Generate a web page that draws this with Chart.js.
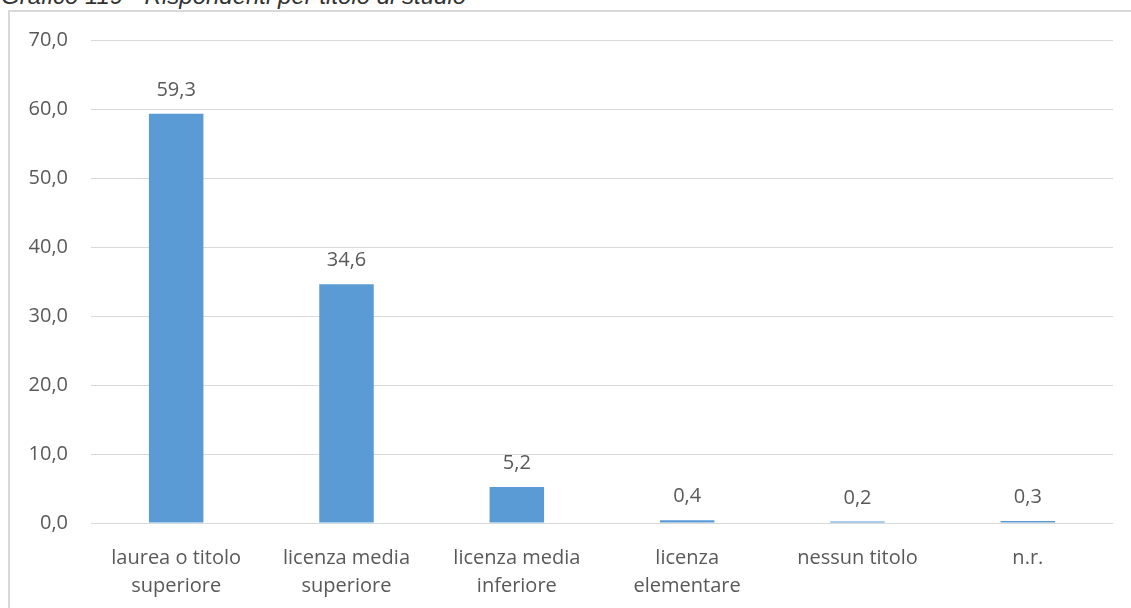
<!DOCTYPE html>
<html lang="it">
<head>
<meta charset="utf-8">
<script src="https://cdn.jsdelivr.net/npm/chart.js@4/dist/chart.umd.min.js"></script>
<style>
  html, body { margin: 0; padding: 0; background: #fff; overflow: hidden; }
  #wrap { position: relative; width: 1131px; height: 608px; overflow: hidden; }
  #titolo {
    position: absolute; left: 1px; top: -17px;
    font: italic 24px "Liberation Sans", Arial, sans-serif;
    line-height: 26px;
    color: #333; white-space: nowrap;
  }
  #cornice {
    position: absolute; left: 8px; top: 10px; width: 1200px; height: 700px;
    border: 2px solid #d9d9d9; box-sizing: border-box;
  }
  #grafico { position: absolute; left: 0; top: 0; }
</style>
</head>
<body>
<div id="wrap">
  <div id="titolo">Grafico 119 - Rispondenti per titolo di studio</div>
  <div id="cornice"></div>
  <canvas id="grafico" width="1131" height="608"></canvas>
</div>
<script>
// Dati del grafico
const categorie = [
  ["laurea o titolo", "superiore"],
  ["licenza media", "superiore"],
  ["licenza media", "inferiore"],
  ["licenza", "elementare"],
  "nessun titolo",
  "n.r.",
];
const valori = [59.3, 34.6, 5.2, 0.4, 0.2, 0.3];
const tickY = [0, 10, 20, 30, 40, 50, 60, 70];

const formatta = (v) => Number(v).toFixed(1).replace(".", ",");
const grigioTesto = "#595959";
const fontBase = { family: "'Open Sans', sans-serif", size: 20 };

// Plugin per le etichette sopra le barre
const etichetteValori = {
  id: "etichetteValori",
  afterDatasetsDraw(chart) {
    const ctx = chart.ctx;
    const meta = chart.getDatasetMeta(0);
    ctx.save();
    ctx.fillStyle = grigioTesto;
    ctx.font = `${fontBase.size}px ${fontBase.family}`;
    ctx.textAlign = "center";
    ctx.textBaseline = "alphabetic";
    meta.data.forEach((bar, i) => {
      ctx.fillText(formatta(valori[i]), bar.x, bar.y - 18);
    });
    ctx.restore();
  },
};

new Chart(document.querySelector("#grafico"), {
  type: "bar",
  data: {
    labels: categorie,
    datasets: [
      {
        data: valori,
        backgroundColor: "#5b9bd5",
        borderWidth: 0,
        categoryPercentage: 1,
        barPercentage: 0.32,
      },
    ],
  },
  options: {
    responsive: false,
    animation: false,
    layout: { padding: { left: 8, top: 40, right: 18, bottom: 0 } },
    plugins: {
      legend: { display: false },
      tooltip: { enabled: false },
    },
    scales: {
      y: {
        min: tickY[0],
        max: tickY[tickY.length - 1],
        afterFit: (scale) => { scale.width = 83; },
        afterBuildTicks: (scale) => {
          scale.ticks = tickY.map((v) => ({ value: v }));
        },
        border: { display: false },
        grid: { color: "#d9d9d9", lineWidth: 1, drawTicks: false },
        ticks: {
          color: grigioTesto,
          font: fontBase,
          padding: 23,
          callback: (v) => formatta(v),
        },
      },
      x: {
        afterFit: (scale) => { scale.height = 85; },
        border: { display: false },
        grid: { display: false },
        ticks: {
          color: grigioTesto,
          font: { ...fontBase, lineHeight: 1.4 },
          padding: 13,
          maxRotation: 0,
          autoSkip: false,
        },
      },
    },
  },
  plugins: [etichetteValori],
});
</script>
</body>
</html>
